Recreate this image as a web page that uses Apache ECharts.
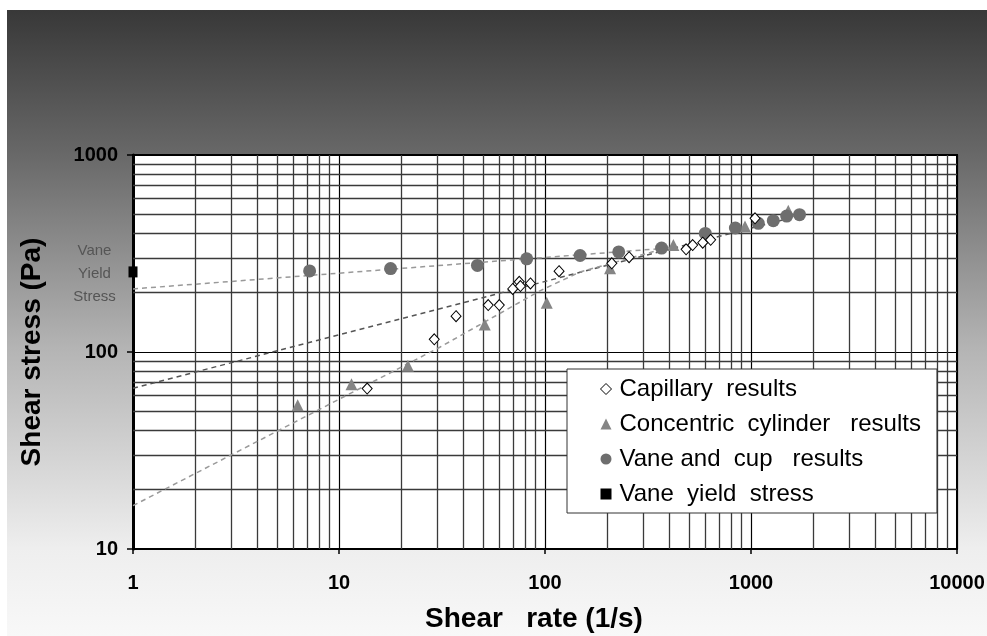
<!DOCTYPE html>
<html>
<head>
<meta charset="utf-8">
<script src="https://cdn.jsdelivr.net/npm/echarts@6/dist/echarts.min.js"></script>
<style>html,body{margin:0;padding:0;background:#fff}#c{width:987px;height:636px}</style>
</head>
<body>
<div id="c"></div>
<script>
// ---- data ----
const xTickLabels = ['1', '10', '100', '1000', '10000'];
const yTickLabels = ['10', '100', '1000'];

const capX = [13.7, 29, 37, 53, 60, 69.7, 75, 76, 85, 117, 211, 256, 484, 521, 583, 637, 1046];
const capY = [65.2, 116, 152, 173, 173, 209, 227, 216, 223, 257, 282, 303, 332, 349, 359, 371, 477];

const ccX = [6.3, 11.5, 21.6, 51, 102, 207, 420, 935, 1517];
const ccY = [53.6, 68.6, 85.1, 138, 178, 266, 349, 433, 521];

const vaneX = [7.2, 17.8, 47, 81.5, 148, 228, 368, 600, 840, 1085, 1283, 1490, 1720];
const vaneY = [258, 265, 275, 297, 309, 322, 337, 400, 426, 450, 464, 490, 498];

const yieldX = [1];
const yieldY = [255];

// dashed fit lines
const vaneFitX = [1, 380];
const vaneFitY = [209, 336];
const capFitX = [1, 1500];
const capFitY = [65.5, 475];
const ccFitX = [1, 31, 95, 148, 400];
const ccFitY = [16.6, 106, 205, 255, 340];

const names = ['Capillary  results', 'Concentric  cylinder   results', 'Vane and  cup   results', 'Vane  yield  stress'];

const zip = (a, b) => a.map((v, i) => [v, b[i]]);

// minor grid values (2..9 in each decade)
const minorX = [], minorY = [];
[1, 10, 100, 1000].forEach(d => { for (let m = 2; m <= 9; m++) minorX.push(m * d); });
[10, 100].forEach(d => { for (let m = 2; m <= 9; m++) minorY.push(m * d); });

const FONT = '"Liberation Sans", Arial, sans-serif';
const chart = echarts.init(document.getElementById('c'), null, { renderer: 'canvas' });

const fitStyle = (c) => ({ color: c, width: 1.5, type: [5, 4] });

chart.setOption({
  animation: false,
  textStyle: { fontFamily: FONT },
  graphic: [{
    type: 'rect', z: -100, silent: true,
    shape: { x: 7, y: 10, width: 980, height: 626 },
    style: { fill: new echarts.graphic.LinearGradient(0, 0, 0, 1, [
      { offset: 0, color: '#383838' },
      { offset: 0.23, color: '#686868' },
      { offset: 0.54, color: '#b4b4b4' },
      { offset: 0.86, color: '#eeeeee' },
      { offset: 1, color: '#f8f8f8' }
    ]) }
  }],
  grid: {
    left: 133, right: 30, top: 155, bottom: 87,
    containLabel: false, outerBoundsMode: 'none',
    show: true, backgroundColor: '#ffffff', borderColor: '#000', borderWidth: 2
  },
  xAxis: {
    type: 'log', logBase: 10, min: 1, max: 10000,
    name: 'Shear   rate (1/s)', nameLocation: 'middle', nameGap: 56,
    nameTextStyle: { fontSize: 28, fontWeight: 'bold', color: '#000', fontFamily: FONT, padding: [0, 22, 0, 0] },
    axisLine: { show: true, lineStyle: { color: '#000', width: 2 } },
    axisTick: { show: true, length: 5, lineStyle: { color: '#000', width: 1.5 } },
    axisLabel: {
      margin: 24, fontSize: 20, fontWeight: 'bold', color: '#000', fontFamily: FONT,
      formatter: v => { const i = Math.round(Math.log10(v)); return xTickLabels[i] !== undefined ? xTickLabels[i] : ''; }
    },
    splitLine: { show: true, lineStyle: { color: '#000', width: 1.2 } }
  },
  yAxis: {
    type: 'log', logBase: 10, min: 10, max: 1000,
    name: 'Shear stress (Pa)', nameLocation: 'middle', nameGap: 87, nameRotate: 90,
    nameTextStyle: { fontSize: 28, fontWeight: 'bold', color: '#000', fontFamily: FONT },
    axisLine: { show: true, lineStyle: { color: '#000', width: 3 } },
    axisTick: { show: true, length: 6, lineStyle: { color: '#000', width: 1.5 } },
    axisLabel: {
      margin: 15, fontSize: 20, fontWeight: 'bold', color: '#000', fontFamily: FONT,
      formatter: v => { const i = Math.round(Math.log10(v)) - 1; return yTickLabels[i] !== undefined ? yTickLabels[i] : ''; }
    },
    splitLine: { show: true, lineStyle: { color: '#000', width: 1.2 } }
  },
  legend: {
    orient: 'vertical', left: 567, top: 369, z: 50,
    padding: [8, 16, 7, 33], itemGap: 11, itemWidth: 11, itemHeight: 11,
    backgroundColor: '#fff', borderColor: '#333', borderWidth: 1,
    textStyle: { fontSize: 24, color: '#000', fontFamily: FONT, padding: [0, 0, 0, 3] },
    data: [
      { name: names[0], icon: 'diamond', itemStyle: { color: '#fff', borderColor: '#000', borderWidth: 1 } },
      { name: names[1], icon: 'triangle' },
      { name: names[2], icon: 'circle' },
      { name: names[3], icon: 'rect' }
    ]
  },
  series: [
    {
      name: 'grid-minor', type: 'line', data: [], silent: true, z: 1,
      markLine: {
        silent: true, symbol: 'none', animation: false, label: { show: false }, z: 1,
        lineStyle: { color: '#3a3a3a', width: 1.3, type: 'solid' },
        data: minorX.map(v => ({ xAxis: v })).concat(minorY.map(v => ({ yAxis: v })))
      }
    },
    { name: 'vaneFit', type: 'line', data: zip(vaneFitX, vaneFitY), showSymbol: false, lineStyle: fitStyle('#999'), silent: true, z: 3 },
    { name: 'capFit', type: 'line', data: zip(capFitX, capFitY), showSymbol: false, lineStyle: fitStyle('#555'), silent: true, z: 3 },
    { name: 'ccFit', type: 'line', data: zip(ccFitX, ccFitY), showSymbol: false, lineStyle: fitStyle('#999'), silent: true, z: 3 },
    {
      name: names[0], type: 'scatter', data: zip(capX, capY), symbol: 'diamond', symbolSize: [10, 11], z: 6,
      itemStyle: { color: '#fff', borderColor: '#000', borderWidth: 1, opacity: 1 }
    },
    {
      name: names[1], type: 'scatter', data: zip(ccX, ccY), symbol: 'triangle', symbolSize: 12, z: 5,
      itemStyle: { color: '#858585', opacity: 1 }
    },
    {
      name: names[2], type: 'scatter', data: zip(vaneX, vaneY), symbol: 'circle', symbolSize: 13, z: 5,
      itemStyle: { color: '#6e6e6e', opacity: 1 }
    },
    {
      name: names[3], type: 'scatter', data: zip(yieldX, yieldY), symbol: 'rect', symbolSize: [9, 11], z: 7,
      clip: false,
      itemStyle: { color: '#000', opacity: 1 },
      label: {
        show: true, formatter: 'Vane\nYield\nStress', position: [-34, 7.5], align: 'center', verticalAlign: 'middle',
        fontSize: 15, lineHeight: 23, color: '#555', fontFamily: FONT
      }
    }
  ]
});
</script>
</body>
</html>
